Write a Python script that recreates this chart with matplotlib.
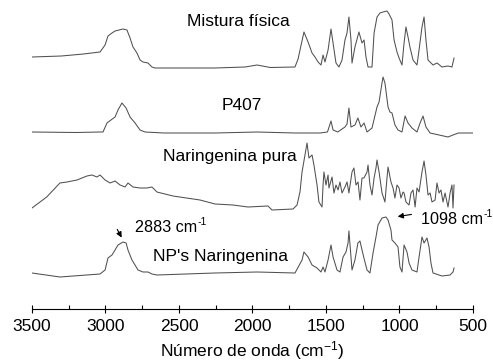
import numpy as np
import matplotlib.pyplot as plt

plt.rcParams['font.family'] = ['Liberation Sans', 'DejaVu Sans']
plt.rcParams['mathtext.fontset'] = 'custom'
plt.rcParams['mathtext.rm'] = 'Liberation Sans'
plt.rcParams['mathtext.it'] = 'Liberation Sans:italic'

# FTIR spectra, stacked (arbitrary units)
mistura_wn = [3500, 3300, 3150, 3037, 3003, 2983, 2956, 2935, 2881, 2854, 2833, 2813,
              2786, 2765, 2745, 2711, 2684, 2663, 2400, 2255, 2050, 1969, 1880, 1711,
              1690, 1650, 1622, 1595, 1575, 1554, 1534, 1520, 1507, 1486, 1466, 1452,
              1432, 1412, 1391, 1371, 1357, 1344, 1330, 1323, 1303, 1276, 1255, 1241,
              1228, 1214, 1187, 1173, 1153, 1133, 1112, 1085, 1071, 1051, 1037, 1017,
              1003, 983, 969, 956, 942, 929, 908, 881, 867, 847, 833, 820, 806, 772,
              745, 711, 670, 643, 629]
mistura_y = [252, 253, 255, 257, 264, 273, 276, 278, 280, 279, 271, 262,
             256, 249, 247, 246, 242, 241, 241, 241, 242, 244, 241.5, 242,
             250, 277, 267, 256, 252, 247, 244, 254, 247, 259, 280, 266,
             246, 242, 249, 269, 276, 292, 269, 246, 262, 277, 266, 269,
             252, 242, 242, 276, 292, 296, 297, 298, 295, 289, 269, 257,
             251, 244, 266, 282, 272, 262, 249, 244, 259, 282, 292, 269, 249, 244,
             246, 242, 243, 242, 251]

p407_wn = [3500, 3200, 3037, 3017, 2990, 2963, 2935, 2915, 2888, 2860, 2833, 2799,
           2765, 2731, 2600, 2255, 1969, 1711, 1540, 1490, 1466, 1452, 1420, 1371,
           1357, 1344, 1330, 1303, 1283, 1262, 1241, 1221, 1187, 1153, 1139, 1119,
           1112, 1099, 1078, 1065, 1051, 1031, 1010, 983, 962, 942, 915, 881, 860,
           840, 820, 792, 670, 636, 600, 500]
p407_y = [177, 176.5, 177, 177, 186, 189, 192, 199, 206, 201, 192, 186,
          179, 177, 176, 176, 177, 176, 176, 177, 188, 179, 177, 182,
          185, 201, 182, 184, 191, 182, 186, 177, 181, 202, 207, 226,
          232, 226, 202, 197, 196, 184, 179, 177, 193, 186, 181, 177, 186,
          193, 182, 176, 172, 174, 176, 176]

pura_wn = [3500, 3400, 3310, 3262, 3194, 3126, 3092, 3058, 3037, 3003, 2969, 2935,
           2901, 2867, 2847, 2813, 2765, 2718, 2684, 2650, 2541, 2357, 2255, 2133,
           2031, 1895, 1867, 1724, 1697, 1677, 1663, 1643, 1629, 1616, 1595, 1582,
           1561, 1548, 1527, 1520, 1514, 1500, 1486, 1480, 1459, 1446, 1432, 1418,
           1405, 1391, 1371, 1357, 1344, 1323, 1310, 1296, 1282, 1269, 1255, 1242,
           1221, 1214, 1201, 1187, 1173, 1160, 1153, 1139, 1119, 1099, 1085, 1078,
           1058, 1044, 1031, 1017, 1003, 990, 976, 969, 956, 935, 922, 908, 894,
           881, 867, 847, 833, 820, 806, 792, 779, 758, 745, 731, 718, 704, 690,
           670, 656, 643, 636, 629]
pura_y = [101, 112, 126, 127, 129, 133, 134, 132, 134, 129, 126, 128,
          124, 122, 126, 122, 121, 121, 122, 117, 113, 109, 105, 104,
          102, 103, 99, 100, 104, 117, 137, 154, 166, 151, 154, 144,
          124, 107, 102, 124, 137, 124, 134, 121, 132, 116, 124, 119,
          127, 116, 122, 127, 116, 137, 141, 124, 127, 109, 131, 131,
          137, 144, 124, 114, 131, 141, 149, 137, 116, 107, 131, 142,
          127, 121, 111, 124, 121, 111, 117, 116, 107, 104, 116, 119, 102,
          121, 117, 137, 148, 134, 114, 116, 107, 109, 126, 116, 119, 107, 116,
          102, 116, 124, 101, 124]

np_wn = [3500, 3310, 3037, 3003, 2983, 2956, 2935, 2915, 2881, 2860, 2847, 2820,
         2799, 2779, 2745, 2711, 2684, 2650, 2255, 1969, 1711, 1663, 1650, 1622,
         1595, 1561, 1534, 1520, 1507, 1486, 1466, 1452, 1425, 1405, 1384, 1364,
         1350, 1344, 1330, 1323, 1303, 1283, 1269, 1255, 1242, 1221, 1201, 1180,
         1160, 1146, 1119, 1092, 1078, 1058, 1051, 1031, 1010, 997, 983, 969,
         949, 935, 915, 881, 867, 847, 833, 813, 799, 786, 772, 711, 656, 636, 629]
np_y = [36, 32, 35, 39, 51, 54, 59, 64, 67, 66, 59, 49,
        44, 39, 37, 37, 35, 34, 36, 37, 36, 49, 57, 52,
        44, 41, 37, 42, 37, 49, 64, 52, 39, 37, 52, 57,
        66, 78, 52, 39, 49, 66, 68, 59, 51, 39, 36, 56,
        72, 84, 91, 92, 89, 79, 69, 66, 62, 42, 37, 64,
        57, 46, 39, 37, 52, 72, 66, 71, 62, 46, 36, 33, 34, 37, 41]

fig = plt.figure(figsize=(4.93, 3.63), dpi=100)
ax = fig.add_axes([32 / 493, 54 / 363, 441 / 493, 309 / 363])

lc = '#505050'
for wn, y in [(mistura_wn, mistura_y), (p407_wn, p407_y), (pura_wn, pura_y), (np_wn, np_y)]:
    ax.plot(wn, y, color=lc, lw=0.75)

ax.set_xlim(3500, 500)
ax.set_ylim(0, 309)
for s in ['left', 'right', 'top']:
    ax.spines[s].set_visible(False)
ax.spines['bottom'].set_linewidth(0.8)
ax.set_yticks([])
ax.set_xticks(np.arange(500, 3501, 500))
ax.set_xticks(np.arange(750, 3500, 500), minor=True)
ax.tick_params(axis='x', which='major', direction='inout', length=6, width=0.8,
               labelsize=12.5, pad=4)
ax.tick_params(axis='x', which='minor', direction='in', length=3, width=0.8)
ax.set_xlabel('Número de onda (cm$^{-1}$)', fontsize=12.5, labelpad=4)

fs = 12.5
ax.text(2099, 287, 'Mistura física', fontsize=fs, ha='center', va='center')
ax.text(2071, 204, 'P407', fontsize=fs, ha='center', va='center')
ax.text(2153, 152, 'Naringenina pura', fontsize=fs, ha='center', va='center')
ax.text(2221, 53, "NP's Naringenina", fontsize=fs, ha='center', va='center')

renderer = fig.canvas.get_renderer()
pfs = 11.6


def peak_label(x, y, base):
    # base text plus a small "-1" superscript right after it
    t = ax.text(x, y, base, fontsize=pfs, ha='left', va='center')
    w = t.get_window_extent(renderer=renderer).width * 72 / fig.dpi
    ax.annotate('-1', xy=(x, y), xytext=(w + 0.2, 4.5), textcoords='offset points',
                fontsize=7.5, ha='left', va='center')


peak_label(2799, 81, '2883 cm')
peak_label(852, 89, '1098 cm')

arw = dict(arrowstyle='-|>', color='black', lw=0.8, mutation_scale=8)
ax.annotate('', xy=(2881, 69), xytext=(2929, 82), arrowprops=arw)
ax.annotate('', xy=(1031, 92), xytext=(900, 95), arrowprops=arw)

fig.savefig('out.png', dpi=100)
